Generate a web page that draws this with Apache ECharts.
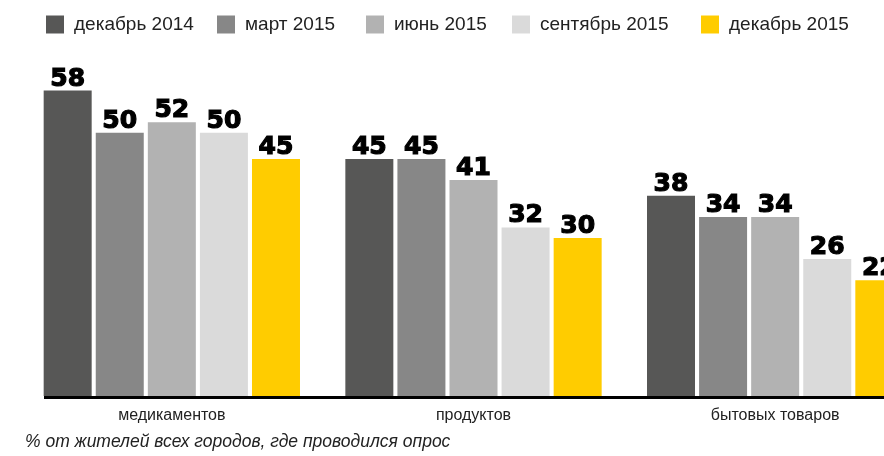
<!doctype html>
<html>
    <head>
        <meta charset="utf-8">
        <style>
            html, body { margin: 0; padding: 0; background: #fff; }
            #main { width: 884px; height: 456px; }
        </style>
    </head>
    <body>
        <div id="main"></div>
        <script src="https://cdn.jsdelivr.net/npm/echarts@6/dist/echarts.min.js"></script>
        <script>
            var chart = echarts.init(document.getElementById('main'));

            var categories = ['медикаментов', 'продуктов', 'бытовых товаров'];
            var periods = ['декабрь 2014', 'март 2015', 'июнь 2015', 'сентябрь 2015', 'декабрь 2015'];
            var dec2014 = [58, 45, 38];
            var mar2015 = [50, 45, 34];
            var jun2015 = [52, 41, 34];
            var sep2015 = [50, 32, 26];
            var dec2015 = [45, 30, 22];
            var values = [dec2014, mar2015, jun2015, sep2015, dec2015];
            var colors = ['#575756', '#878787', '#b2b2b2', '#dadada', '#ffcc00'];
            var legendLeft = [46, 217, 366, 512, 701];
            var note = '% от жителей всех городов, где проводился опрос';

            var legends = periods.map(function (name, i) {
                return {
                    data: [name],
                    left: legendLeft[i],
                    top: 15,
                    padding: 0,
                    icon: 'rect',
                    itemWidth: 18,
                    itemHeight: 18,
                    selectedMode: false,
                    textStyle: {
                        fontFamily: 'Liberation Sans',
                        fontSize: 19,
                        color: '#222',
                        padding: [2, 0, 0, 5]
                    }
                };
            });

            var series = periods.map(function (name, i) {
                return {
                    name: name,
                    type: 'bar',
                    data: values[i],
                    barWidth: 48,
                    barGap: '8.5%',
                    itemStyle: { color: colors[i] },
                    label: {
                        show: true,
                        position: 'top',
                        distance: -1,
                        fontFamily: 'DejaVu Sans',
                        fontWeight: 'bold',
                        fontSize: 25,
                        color: '#000',
                        textBorderColor: '#000',
                        textBorderWidth: 1.2
                    }
                };
            });

            chart.setOption({
                animation: false,
                color: colors,
                legend: legends,
                title: {
                    text: note,
                    left: 25,
                    top: 433,
                    padding: 0,
                    textStyle: {
                        fontFamily: 'Liberation Sans',
                        fontStyle: 'italic',
                        fontWeight: 'normal',
                        fontSize: 17.5,
                        color: '#222'
                    }
                },
                grid: {
                    left: 21,
                    top: 1,
                    width: 905,
                    bottom: 60,
                    outerBoundsMode: 'none'
                },
                xAxis: {
                    type: 'category',
                    data: categories,
                    axisLine: { show: false },
                    axisTick: { show: false },
                    axisLabel: {
                        margin: 12,
                        fontFamily: 'Liberation Sans',
                        fontSize: 16,
                        color: '#222'
                    }
                },
                yAxis: {
                    type: 'value',
                    min: 0,
                    max: 75,
                    show: false,
                    splitLine: { show: false }
                },
                graphic: [{
                    type: 'line',
                    shape: { x1: 44, y1: 397.5, x2: 884, y2: 397.5 },
                    style: { stroke: '#000', lineWidth: 3 }
                }],
                series: series
            });

            window.addEventListener('resize', function () {
                chart.resize();
            });
        </script>
    </body>
</html>
